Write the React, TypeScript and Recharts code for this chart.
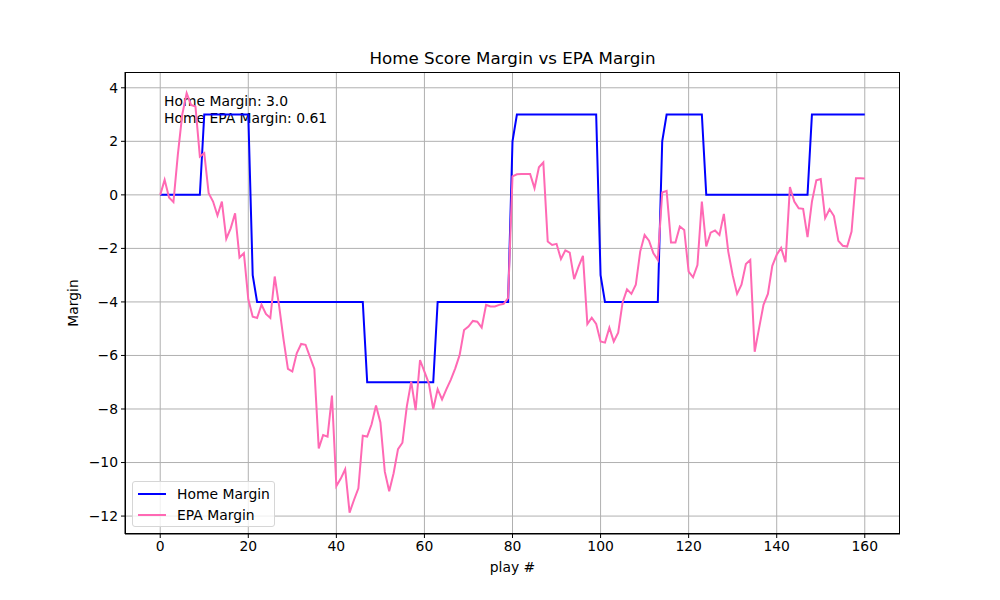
import { LineChart, Line, XAxis, YAxis, CartesianGrid, Label } from 'recharts';

const homeMargin = [
  0, 0, 0, 0, 0, 0, 0, 0, 0, 0,
  3, 3, 3, 3, 3, 3, 3, 3, 3, 3, 3,
  -3,
  -4, -4, -4, -4, -4, -4, -4, -4, -4, -4, -4, -4, -4, -4, -4, -4, -4, -4, -4, -4, -4, -4, -4, -4, -4,
  -7, -7, -7, -7, -7, -7, -7, -7, -7, -7, -7, -7, -7, -7, -7, -7,
  -4, -4, -4, -4, -4, -4, -4, -4, -4, -4, -4, -4, -4, -4, -4, -4, -4,
  2,
  3, 3, 3, 3, 3, 3, 3, 3, 3, 3, 3, 3, 3, 3, 3, 3, 3, 3, 3,
  -3,
  -4, -4, -4, -4, -4, -4, -4, -4, -4, -4, -4, -4, -4,
  2,
  3, 3, 3, 3, 3, 3, 3, 3, 3,
  0, 0, 0, 0, 0, 0, 0, 0, 0, 0, 0, 0, 0, 0, 0, 0, 0, 0, 0, 0, 0, 0, 0, 0,
  3, 3, 3, 3, 3, 3, 3, 3, 3, 3, 3, 3, 3,
];

const epaMargin = [
  0, 0.56, -0.1, -0.27, 1.5, 3.0, 3.8, 3.36, 3.3, 1.43,
  1.56, 0.06, -0.25, -0.77, -0.25, -1.64, -1.25, -0.69, -2.34, -2.18,
  -3.9, -4.55, -4.6, -4.1, -4.45, -4.6, -3.05, -4.15, -5.4, -6.5,
  -6.6, -5.92, -5.57, -5.6, -6.05, -6.5, -9.47, -8.97, -9.03, -7.5,
  -10.88, -10.6, -10.25, -11.87, -11.4, -10.96, -9.0, -9.03, -8.57, -7.87,
  -8.5, -10.34, -11.07, -10.4, -9.5, -9.26, -7.9, -6.98, -8.04, -6.17,
  -6.6, -7.04, -8.0, -7.26, -7.64, -7.26, -6.9, -6.48, -5.98, -5.05,
  -4.92, -4.71, -4.74, -4.96, -4.11, -4.17, -4.17, -4.11, -4.07, -3.86,
  0.69, 0.77, 0.78, 0.78, 0.78, 0.25, 1.03, 1.21, -1.74, -1.87,
  -1.83, -2.4, -2.07, -2.16, -3.15, -2.68, -2.28, -4.83, -4.59, -4.82,
  -5.48, -5.52, -4.96, -5.48, -5.15, -4.02, -3.53, -3.7, -3.36, -2.12,
  -1.5, -1.71, -2.18, -2.43, 0.09, 0.15, -1.78, -1.78, -1.18, -1.31,
  -2.87, -3.08, -2.62, -0.25, -1.93, -1.41, -1.33, -1.5, -0.71, -2.12,
  -3.0, -3.7, -3.36, -2.58, -2.43, -5.86, -4.98, -4.11, -3.7, -2.65,
  -2.24, -1.98, -2.52, 0.29, -0.25, -0.5, -0.52, -1.58, -0.25, 0.54,
  0.59, -0.87, -0.54, -0.79, -1.72, -1.9, -1.93, -1.37, 0.62, 0.62,
  0.61,
];

const xTicks = [0, 20, 40, 60, 80, 100, 120, 140, 160];
const yTicks = [-12, -10, -8, -6, -4, -2, 0, 2, 4];

const FONT = '"DejaVu Sans", sans-serif';
const BLUE = '#0000ff';
const PINK = '#ff69b4';

const data = homeMargin.map((h, i) => ({ play: i, home: h, epa: epaMargin[i] }));

const fmt = (v: number) => String(v).replace('-', '\u2212');

function LegendBox() {
  return (
    <div
      style={{
        position: 'absolute',
        left: 132,
        top: 481,
        boxSizing: 'border-box',
        width: 143,
        height: 46,
        border: '1px solid #d6d6d6',
        borderRadius: 3,
        background: 'rgba(255,255,255,0.8)',
        padding: '2px 0 0 5px',
        fontFamily: FONT,
        fontSize: 13.9,
        whiteSpace: 'nowrap',
      }}
    >
      {[
        { name: 'Home Margin', color: BLUE },
        { name: 'EPA Margin', color: PINK },
      ].map((it) => (
        <div key={it.name} style={{ display: 'flex', alignItems: 'center', height: 20.5 }}>
          <span style={{ display: 'inline-block', width: 28, height: 2, background: it.color, marginRight: 11 }} />
          <span>{it.name}</span>
        </div>
      ))}
    </div>
  );
}

export default function App() {
  return (
    <div style={{ position: 'absolute', left: 0, top: 0, width: 1000, height: 600, background: '#fff', fontFamily: FONT }}>
      <LineChart width={1000} height={600} data={data} margin={{ top: 72, right: 100, bottom: 36, left: 65 }}>
        <CartesianGrid stroke="#b0b0b0" strokeWidth={1} horizontalValues={yTicks} verticalValues={xTicks} />
        <XAxis
          dataKey="play"
          type="number"
          domain={[-8, 168]}
          ticks={xTicks}
          allowDataOverflow
          height={30}
          tickSize={4}
          tickMargin={3}
          stroke="#000"
          tick={{ fill: '#000', fontSize: 13.9, fontFamily: FONT }}
        >
          <Label value="play #" position="bottom" offset={-2} style={{ fill: '#000', fontSize: 13.9, fontFamily: FONT }} />
        </XAxis>
        <YAxis
          type="number"
          domain={[-12.67, 4.59]}
          ticks={yTicks}
          allowDataOverflow
          width={60}
          tickSize={4}
          tickMargin={3}
          stroke="#000"
          tickFormatter={fmt}
          tick={{ fill: '#000', fontSize: 13.9, fontFamily: FONT }}
        >
          <Label value="Margin" angle={-90} position="left" offset={-8} style={{ fill: '#000', fontSize: 13.9, fontFamily: FONT, textAnchor: 'middle' }} />
        </YAxis>
        <Line type="linear" dataKey="home" stroke={BLUE} strokeWidth={2} dot={false} isAnimationActive={false} />
        <Line type="linear" dataKey="epa" stroke={PINK} strokeWidth={2} dot={false} isAnimationActive={false} />
        <text x={512.5} y={64} textAnchor="middle" style={{ fontSize: 16.7, fontFamily: FONT, fill: '#000' }}>
          Home Score Margin vs EPA Margin
        </text>
        <text x={164} y={106} style={{ fontSize: 13.9, fontFamily: FONT, fill: '#000' }}>
          Home Margin: 3.0
        </text>
        <text x={164} y={122.5} style={{ fontSize: 13.9, fontFamily: FONT, fill: '#000' }}>
          Home EPA Margin: 0.61
        </text>
      </LineChart>
      <div
        style={{
          position: 'absolute',
          left: 125,
          top: 72,
          width: 775,
          height: 462,
          boxSizing: 'border-box',
          border: '1px solid #000',
          pointerEvents: 'none',
        }}
      />
      <LegendBox />
    </div>
  );
}
